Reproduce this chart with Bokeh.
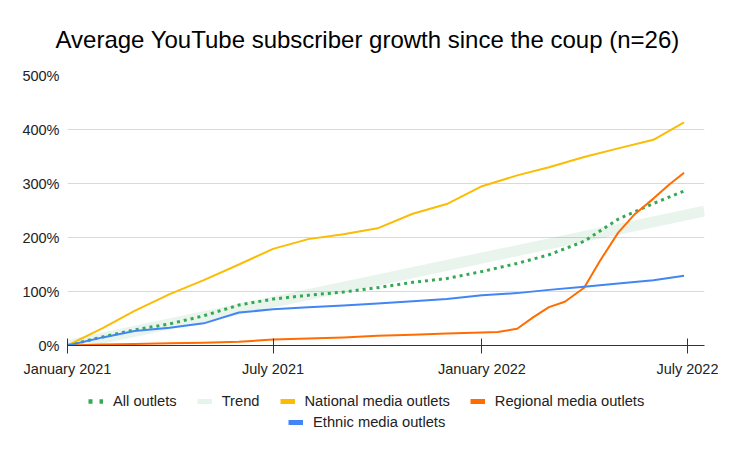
import pandas as pd
from bokeh.plotting import figure
from bokeh.layouts import column
from bokeh.models import Legend, LegendItem, Range1d, FixedTicker, DatetimeTickFormatter
from bokeh.embed import file_html
from bokeh.resources import INLINE

TITLE = "Average YouTube subscriber growth since the coup (n=26)"

# monthly observation dates (last one = end of June 2022)
dates = ["2021-01-01", "2021-02-01", "2021-03-01", "2021-04-01", "2021-05-01", "2021-06-01",
         "2021-07-01", "2021-08-01", "2021-09-01", "2021-10-01", "2021-11-01", "2021-12-01",
         "2022-01-01", "2022-02-01", "2022-03-01", "2022-04-01", "2022-05-01", "2022-06-01",
         "2022-06-28"]
all_outlets = [0, 16, 29, 40, 55, 75, 86, 93, 99, 107, 117, 124, 137, 152, 168, 193, 234, 263, 286]
national = [0, 32, 64, 95, 121, 150, 179, 197, 206, 217, 244, 262, 295, 315, 330, 349, 365, 381, 413]
ethnic = [0, 15, 27, 33, 41, 61, 67, 71, 74, 78, 82, 86, 93, 97, 103, 109, 115, 121, 129]

regional_dates = ["2021-01-01", "2021-02-01", "2021-03-01", "2021-04-01", "2021-05-01", "2021-06-01",
                  "2021-07-01", "2021-08-01", "2021-09-01", "2021-10-01", "2021-11-01", "2021-12-01",
                  "2022-01-01", "2022-01-15", "2022-02-01", "2022-02-15", "2022-03-01", "2022-03-15",
                  "2022-04-01", "2022-04-15", "2022-05-01", "2022-05-15", "2022-06-01", "2022-06-15",
                  "2022-06-28"]
regional = [0, 2, 3, 4, 5, 7, 11, 13, 15, 18, 20, 22, 24, 25, 31, 52, 71, 81, 107, 157, 209, 242, 272, 298, 320]

# linear trend of "All outlets" across the whole axis
trend_dates = ["2021-01-01", "2022-07-16"]
trend_values = [0, 249]

x_ticks = ["2021-01-01", "2021-07-01", "2022-01-01", "2022-07-01"]
y_ticks = [0, 100, 200, 300, 400, 500]
y_tick_labels = ["0%", "100%", "200%", "300%", "400%", "500%"]

legend_row1 = ["All outlets", "Trend", "National media outlets", "Regional media outlets"]
legend_row2 = ["Ethnic media outlets"]

GREEN, YELLOW, ORANGE, BLUE = "#34a853", "#fbbc04", "#ff6d01", "#4285f4"
FONT = "Liberation Sans"


def ts(lst):
    return pd.to_datetime(lst)


x_start = pd.Timestamp("2021-01-01")
x_end = pd.Timestamp("2022-07-16")

p = figure(frame_width=637, frame_height=270, output_backend="svg", toolbar_location=None,
           x_axis_type="datetime", x_range=Range1d(x_start, x_end), y_range=Range1d(0, 500),
           min_border_left=67, min_border_right=14, min_border_top=75, min_border_bottom=45)
p.outline_line_color = None

p.title.text = TITLE
p.title.text_font = FONT
p.title.text_font_size = "24px"
p.title.text_font_style = "normal"
p.title.text_color = "#000000"
p.title.align = "left"
p.title.offset = -12
p.title.standoff = 46

# axes
xt = FixedTicker(ticks=[t.value // 10**6 for t in ts(x_ticks)])
p.xaxis.ticker = xt
p.xaxis.formatter = DatetimeTickFormatter(days="%B %Y", months="%B %Y", years="%B %Y")
p.xaxis.axis_line_color = "#333333"
p.xaxis.major_tick_line_color = "#333333"
p.xaxis.major_tick_in = 7
p.xaxis.major_tick_out = 8
p.xaxis.minor_tick_line_color = None
p.xaxis.major_label_standoff = 7

yt = FixedTicker(ticks=y_ticks)
p.yaxis.ticker = yt
p.yaxis.major_label_overrides = {v: s for v, s in zip(y_ticks, y_tick_labels)}
p.yaxis.axis_line_color = None
p.yaxis.major_tick_line_color = None
p.yaxis.minor_tick_line_color = None
p.yaxis.major_tick_out = 0
p.yaxis.major_tick_in = 0
p.yaxis.major_label_standoff = 8

for ax in (p.xaxis, p.yaxis):
    ax.major_label_text_font = FONT
    ax.major_label_text_font_size = "14.5px"
    ax.major_label_text_color = "#222222"

p.xgrid.grid_line_color = None
p.ygrid.ticker = yt
p.ygrid.grid_line_color = "#d9d9d9"
p.ygrid.grid_line_width = 1

# data
p.line(ts(trend_dates), trend_values, color=GREEN, alpha=0.11, line_width=11)
p.line(ts(dates), all_outlets, color=GREEN, line_width=3, line_dash="3 4")
p.line(ts(dates), national, color=YELLOW, line_width=2, line_join="round")
p.line(ts(regional_dates), regional, color=ORANGE, line_width=2, line_join="round")
p.line(ts(dates), ethnic, color=BLUE, line_width=2, line_join="round")

# ---- legend strip (separate small figure below the chart) ----
lf = figure(width=718, height=48, output_backend="svg", toolbar_location=None,
            x_range=Range1d(0, 1), y_range=Range1d(0, 1),
            x_axis_location=None, y_axis_location=None, min_border=0)
lf.outline_line_color = None
lf.xgrid.grid_line_color = None
lf.ygrid.grid_line_color = None

nan = float("nan")
lg_all = lf.line([0], [nan], color=GREEN, line_width=4.5, line_dash="4 7")
lg_trend = lf.line([0], [nan], color=GREEN, alpha=0.12, line_width=5)
lg_nat = lf.line([0], [nan], color=YELLOW, line_width=5)
lg_reg = lf.line([0], [nan], color=ORANGE, line_width=5)
lg_eth = lf.line([0], [nan], color=BLUE, line_width=5)


def make_legend(labels, rends, loc):
    return Legend(items=[LegendItem(label=l, renderers=[r]) for l, r in zip(labels, rends)],
                  orientation="horizontal", location=loc,
                  glyph_width=15, glyph_height=14, label_standoff=10, spacing=20,
                  padding=0, margin=0, border_line_color=None, background_fill_alpha=0,
                  label_text_font=FONT, label_text_font_size="14.7px",
                  label_text_color="#222222", label_height=14)


leg1 = make_legend(legend_row1, [lg_all, lg_trend, lg_nat, lg_reg], (21, 29))
leg2 = make_legend(legend_row2, [lg_eth], (221, 8))
lf.add_layout(leg1, "center")
lf.add_layout(leg2, "center")

layout = column(p, lf, spacing=0)
open("out.html", "w").write(file_html(layout, INLINE))
